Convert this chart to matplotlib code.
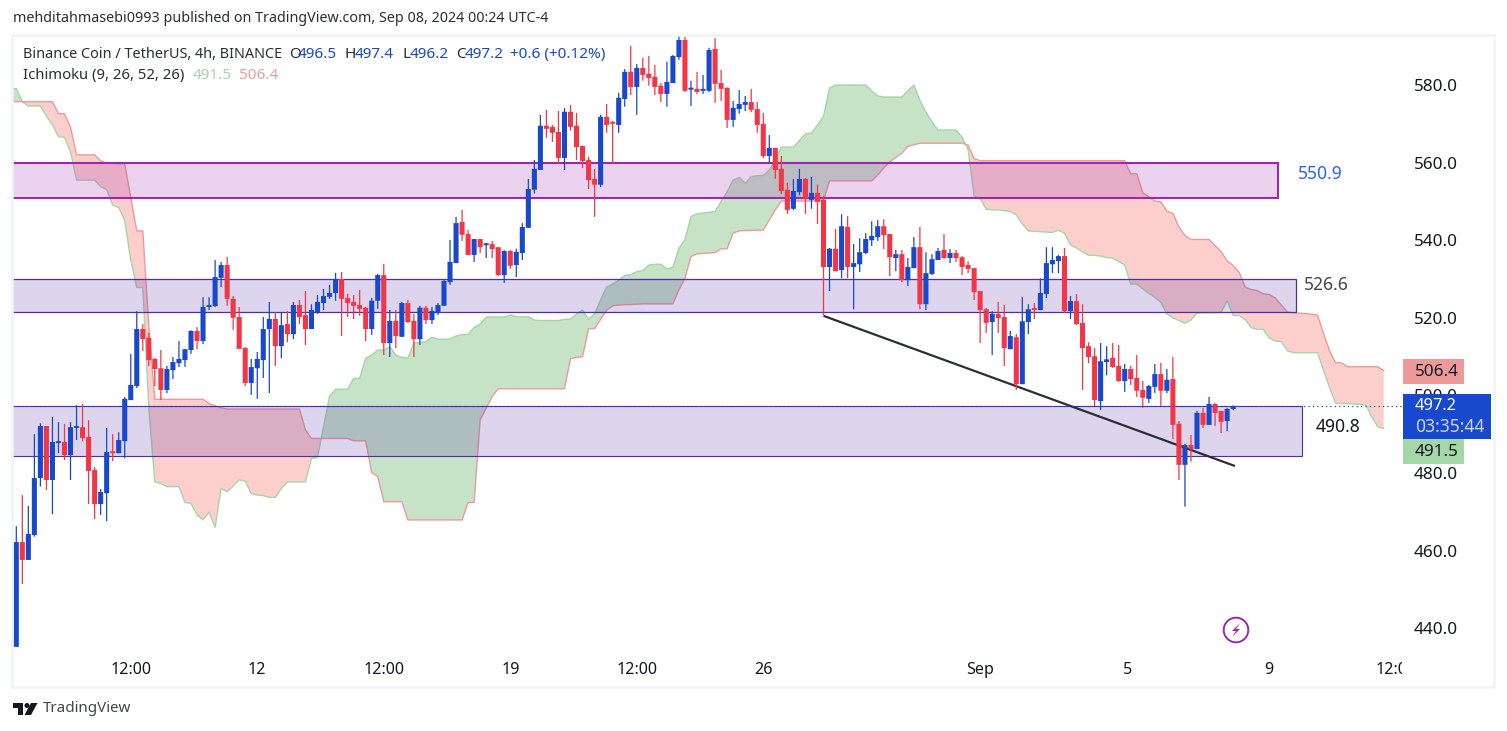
import numpy as np
import matplotlib
matplotlib.use('Agg')
import matplotlib.pyplot as plt
from matplotlib.patches import Rectangle, Polygon, Circle
from matplotlib.transforms import Bbox, TransformedBbox

#BNB/USDT 4h candles, prices
opens = [435.2,462.2,457.6,464.0,478.7,492.1,478.2,487.7,488.0,484.6,
         491.6,491.8,489.3,480.8,472.0,474.8,485.4,485.1,488.2,498.8,
         502.4,517.1,514.8,509.4,507.0,501.4,506.5,508.3,509.1,511.7,
         516.6,514.0,522.8,523.0,530.3,533.6,524.9,520.2,512.2,503.2,
         507.0,509.1,517.1,519.7,512.7,518.4,515.8,523.3,520.7,517.1,
         521.5,523.8,525.4,526.4,530.0,525.1,524.1,523.3,522.6,517.1,
         524.4,531.0,513.5,519.2,515.1,523.8,519.2,514.5,522.6,519.4,
         521.3,523.1,529.2,534.1,544.7,541.6,536.2,540.3,538.7,539.0,
         538.2,531.0,537.2,533.6,536.7,543.2,553.0,558.1,569.5,569.2,
         567.9,561.2,573.1,569.5,564.3,560.7,555.8,554.3,571.8,570.2,
         569.7,576.4,583.4,579.5,584.4,582.9,582.1,579.8,577.7,580.5,
         587.2,591.6,578.8,579.0,578.5,578.5,589.3,580.5,579.3,571.0,
         573.8,574.9,575.6,573.8,570.0,561.7,563.8,558.4,553.0,548.1,
         552.4,555.8,550.4,552.2,550.4,533.1,537.8,532.3,543.4,533.1,
         533.8,536.7,540.0,540.8,543.6,541.6,535.4,536.4,529.7,532.8,
         538.2,523.5,531.3,534.9,537.5,535.4,536.7,535.6,533.6,532.8,
         526.9,522.2,518.9,521.0,520.2,511.9,515.0,502.9,518.9,522.2,
         522.0,526.1,533.8,534.6,535.9,521.7,524.3,518.7,512.7,510.1,
         498.5,508.6,509.7,507.6,503.7,506.8,504.5,501.4,499.1,502.2,
         505.5,501.2,504.2,492.7,482.1,487.2,486.2,495.5,492.4,497.8,
         496.0,493.4,496.5]
highs = [466.3,474.3,471.5,490.0,492.8,492.1,494.4,493.1,492.6,493.1,
         497.5,497.8,493.6,481.5,475.9,491.6,490.0,490.5,499.6,510.7,
         521.7,518.4,516.1,509.6,511.7,507.6,509.9,514.0,511.9,516.8,
         517.6,525.3,525.3,534.9,534.4,535.7,525.6,522.8,512.5,509.4,
         511.2,520.2,524.1,521.5,521.5,521.7,524.1,524.6,526.9,523.5,
         525.9,527.4,528.5,531.6,531.8,526.2,525.9,527.2,522.8,525.1,
         531.3,533.9,522.0,522.0,524.1,524.6,521.0,523.1,523.1,522.8,
         523.8,530.0,540.1,546.0,547.8,542.6,540.3,540.3,539.3,539.8,
         538.2,537.4,537.5,537.8,544.4,555.8,560.7,572.3,573.6,569.7,
         573.3,574.1,574.9,572.8,564.3,561.5,558.4,572.3,575.1,570.7,
         578.0,584.1,590.1,585.4,587.0,587.5,585.2,580.5,586.0,587.7,
         592.9,592.4,581.1,583.4,582.6,589.6,592.1,583.9,579.3,575.9,
         578.7,577.2,579.0,575.6,572.8,567.1,563.8,561.7,554.8,555.8,
         558.4,556.0,556.3,554.3,551.4,538.0,542.9,546.7,546.2,539.0,
         540.5,541.8,544.9,545.2,545.4,541.6,537.5,537.5,535.4,540.8,
         543.4,536.9,536.4,538.0,541.6,537.7,537.5,535.9,534.6,532.8,
         526.9,522.5,521.7,524.1,523.3,516.6,515.8,525.3,523.5,523.8,
         530.2,538.2,538.2,536.2,538.0,525.6,526.1,523.5,513.7,512.2,
         513.5,512.7,513.5,513.0,508.1,507.6,510.4,503.7,502.7,508.1,
         508.4,506.8,509.9,493.4,487.5,489.8,496.0,496.8,499.6,498.0,
         496.0,496.8,497.4]
lows = [435.2,451.4,457.6,463.6,476.5,475.6,469.4,485.1,483.3,478.2,
        488.5,488.2,472.0,468.1,469.2,467.6,483.1,485.1,483.8,498.8,
        501.9,511.4,507.6,502.4,498.8,500.6,504.2,507.3,507.3,510.7,
        511.9,513.2,522.0,522.8,527.9,523.1,516.9,512.0,502.4,500.1,
        499.1,504.5,500.6,507.6,509.6,513.7,514.5,518.4,513.0,517.1,
        521.0,522.0,524.9,524.4,515.3,520.2,519.7,520.5,514.0,515.6,
        522.3,510.4,509.9,512.2,515.1,518.7,509.9,513.0,518.4,518.4,
        520.7,523.1,528.5,534.1,539.8,536.2,534.4,536.7,535.4,535.4,
        530.8,529.0,532.6,530.5,534.9,543.2,552.0,558.1,566.4,565.3,
        559.7,558.1,568.2,560.7,558.6,553.2,546.0,553.7,567.7,559.7,
        567.7,574.4,577.4,572.3,581.1,579.8,577.4,575.6,574.4,580.5,
        586.5,578.2,574.6,577.7,577.7,578.2,575.4,575.9,568.9,569.2,
        572.6,573.3,573.0,567.7,561.2,559.9,555.8,551.9,546.8,547.8,
        551.6,546.8,548.1,544.2,520.7,526.9,532.0,530.2,530.2,522.2,
        531.8,536.4,538.5,539.8,537.7,530.7,532.0,529.2,528.2,532.8,
        522.2,522.0,531.0,534.9,535.2,534.1,534.4,531.0,531.5,524.6,
        513.5,516.1,510.4,516.1,507.6,511.9,501.4,502.9,515.8,519.7,
        522.0,525.1,531.5,531.5,521.2,519.7,518.1,501.4,508.3,497.2,
        496.2,505.2,507.1,503.5,500.9,502.7,499.6,496.8,498.1,500.6,
        497.3,500.6,488.8,478.2,471.3,482.9,486.2,491.6,492.4,492.1,
        490.3,490.8,496.2]
closes = [462.2,457.6,464.3,478.7,492.1,478.2,488.0,488.2,484.6,491.8,
          491.8,489.0,480.5,472.0,475.1,485.4,485.1,488.5,499.1,502.7,
          517.1,514.5,509.1,506.8,501.4,506.8,508.6,509.4,511.9,516.6,
          514.0,522.8,523.0,530.5,533.6,524.9,520.0,512.0,503.2,507.3,
          509.4,517.1,519.7,512.7,518.1,515.8,523.3,520.2,517.1,522.0,
          524.1,525.6,526.4,530.0,524.9,523.8,523.1,522.3,517.1,524.4,
          531.0,513.5,519.2,515.3,523.8,518.9,514.5,522.6,519.4,521.8,
          523.3,529.5,534.4,544.4,541.4,536.2,540.3,538.2,538.9,537.7,
          531.0,537.2,533.4,537.0,543.4,553.2,558.4,569.5,568.7,567.7,
          561.2,573.1,569.2,564.0,560.4,555.5,554.3,571.8,569.7,570.0,
          576.7,583.4,579.5,584.4,582.6,581.8,579.5,577.7,580.8,587.5,
          591.6,578.5,579.0,578.2,578.7,589.0,580.3,579.0,571.0,574.1,
          575.1,575.6,573.6,569.7,561.7,563.8,558.1,552.7,547.8,552.7,
          555.8,550.6,552.2,549.9,533.1,537.8,532.0,543.6,533.1,534.1,
          536.9,540.3,541.1,543.6,541.3,535.6,536.4,529.7,533.1,538.2,
          523.5,531.5,535.1,537.2,535.4,536.7,535.4,533.1,532.6,526.6,
          522.0,518.7,521.0,519.9,512.2,515.3,502.9,519.1,522.2,522.0,
          526.4,534.1,534.9,535.9,521.7,524.3,518.4,512.2,509.9,498.8,
          508.8,509.3,507.3,503.7,506.8,504.2,501.2,499.4,502.4,505.5,
          501.2,504.0,492.4,482.1,487.2,486.2,495.5,492.4,497.8,495.5,
          493.2,496.5,497.2]

#ichimoku cloud, one value per bar starting one bar left of the first candle
span_a = [579.1,579.1,575.7,574.6,574.6,574.6,572.0,569.7,566.7,566.5,
          562.8,555.5,555.5,555.5,555.5,553.8,553.0,549.1,548.4,545.1,
          534.9,527.8,527.8,496.6,477.7,477.3,476.5,476.5,476.5,472.4,
          472.2,469.2,467.9,469.9,466.0,476.0,475.2,476.6,478.2,477.9,
          474.7,474.3,474.2,473.7,473.7,476.0,477.7,477.7,477.7,477.7,
          483.8,484.0,491.9,499.8,501.6,501.6,501.6,504.4,504.4,509.6,
          510.4,511.7,511.7,512.6,510.4,509.8,509.6,513.6,513.6,513.9,
          515.0,514.5,514.5,514.5,515.3,515.7,515.7,517.5,518.4,520.2,
          520.2,520.2,520.2,520.7,520.3,520.3,520.3,519.4,519.3,519.3,
          519.3,519.3,519.6,519.7,521.0,522.0,519.6,521.0,524.6,527.9,
          528.7,529.7,530.9,531.1,531.9,532.2,533.6,533.8,533.8,532.6,
          533.0,537.9,540.2,546.1,546.8,547.0,547.2,547.4,550.0,552.5,
          555.5,556.2,554.7,556.4,556.6,556.7,558.1,560.7,564.0,564.0,
          564.0,565.7,567.4,567.6,569.7,571.9,579.2,580.0,580.0,580.0,
          580.0,580.0,580.0,578.5,577.2,576.9,576.9,576.9,576.9,578.5,
          580.0,576.0,573.0,570.5,568.4,568.4,568.4,568.4,566.6,563.3,
          551.4,550.8,548.0,547.8,547.8,547.6,547.4,546.5,544.2,542.4,
          542.3,542.2,542.1,542.0,542.6,541.8,538.8,538.0,537.0,536.1,
          536.1,535.9,535.5,535.4,534.5,533.6,528.7,528.7,527.5,526.3,
          525.3,524.0,521.0,520.0,519.3,518.6,519.4,521.2,521.3,521.3,
          521.3,521.4,524.4,520.6,520.6,519.5,517.5,517.0,517.0,514.8,
          514.0,513.9,511.5,511.0,511.0,511.0,511.0,511.0,506.5,502.0,
          498.0,497.9,497.9,497.8,497.7,497.6,494.5,491.9,491.5]
span_b = [575.7,575.7,575.7,575.7,575.7,575.7,575.7,575.7,572.6,572.6,
          569.1,562.0,562.0,562.0,562.0,560.5,559.8,559.8,559.7,559.7,
          551.0,542.4,542.4,517.7,499.0,499.0,499.0,499.0,499.0,499.0,
          499.0,499.0,499.0,497.9,497.3,496.8,496.5,496.5,496.5,496.5,
          496.5,496.5,496.5,496.5,496.5,496.5,496.5,496.5,496.5,491.1,
          488.9,488.9,488.9,488.9,488.9,488.9,488.9,488.3,488.3,488.3,
          480.1,479.1,472.6,472.6,472.6,472.6,467.9,467.9,467.9,467.9,
          467.9,467.9,467.9,467.9,467.9,467.9,472.4,472.4,493.7,496.7,
          499.7,501.7,501.7,501.7,501.7,501.7,501.7,501.7,501.7,501.7,
          501.7,501.7,501.7,509.5,509.8,510.0,517.2,517.2,519.6,522.0,
          523.1,523.3,523.4,523.4,523.5,523.6,523.6,523.6,523.6,523.6,
          523.6,527.2,530.2,535.8,536.5,536.6,536.7,536.8,537.8,537.8,
          541.8,542.4,542.5,542.5,542.6,542.6,545.2,547.8,550.1,550.1,
          550.1,550.1,550.1,550.1,550.1,550.1,555.3,555.3,555.3,555.3,
          555.3,555.3,555.3,555.3,556.8,558.6,560.2,561.3,562.4,564.2,
          564.6,565.0,565.0,565.0,565.0,565.0,565.0,565.0,565.0,564.5,
          561.0,560.5,560.5,560.5,560.5,560.5,560.5,560.5,560.5,560.5,
          560.5,560.5,560.5,560.5,560.5,560.5,560.5,560.5,560.5,560.5,
          560.5,560.5,560.5,560.5,560.5,560.5,557.1,557.1,552.2,551.2,
          550.1,549.9,547.5,546.9,543.4,541.2,540.2,540.2,540.2,540.2,
          538.6,537.1,534.7,533.5,531.7,527.9,527.3,527.0,526.2,526.0,
          525.1,523.3,521.5,521.3,521.2,521.1,520.9,520.7,516.0,511.5,
          508.4,508.4,507.4,507.4,507.4,507.4,507.4,507.4,506.4]

#drawn zones: top price, bottom price, last bar
zone_tops = [559.9,529.9,497.2]
zone_bottoms = [550.9,521.6,484.3]
zone_ends = [209.4,212.4,213.4]
zone_colors = ['#9c27b0','#512da8','#512da8']
zone_lw = [1.5,0.9,0.8]

#trend line
trend_bars = [134,202.3]
trend_prices = [520.5,481.8]

price_ticks = [440,460,480,500,520,540,560,580]
time_ticks = [19,40,61,82,103,124,160,184.4,208,229]
time_labels = ['12:00','12','12:00','19','12:00','26','Sep','5','9','12:00']

W,H = 1507,731
FONT = 'Noto Sans'
BLUE = '#1848cc'
RED = '#f23645'
plt.rcParams['font.family'] = FONT

fig = plt.figure(figsize=(W/100,H/100),dpi=100,facecolor='white')

#main chart, bar spacing 6.024 px and 3.88 px per price unit
L,R,T,B = 13,1402,35,650
ax = fig.add_axes([L/W,1-B/H,(R-L)/W,(B-T)/H])
ax.set_xlim((L-16.3)/6.024,(R-16.3)/6.024)
ax.set_ylim(580-(B-85)/3.88,580-(T-85)/3.88)
for s in ax.spines.values():
    s.set_visible(False)

#cloud
cx = np.arange(-1,len(span_a)-1)
a = np.array(span_a)
b = np.array(span_b)
ax.fill_between(cx,a,b,where=a>=b,interpolate=True,color='#43a047',alpha=0.3,lw=0,zorder=1)
ax.fill_between(cx,a,b,where=a<b,interpolate=True,color='#f44336',alpha=0.25,lw=0,zorder=1)
ax.plot(cx,a,color='#a5d6a7',lw=1.0,zorder=1.5)
ax.plot(cx,b,color='#ef9a9a',lw=1.0,zorder=1.5)

#zones over the cloud
x0 = ax.get_xlim()[0]-2
for top,bot,end,col,lw in zip(zone_tops,zone_bottoms,zone_ends,zone_colors,zone_lw):
    ax.add_patch(Rectangle((x0,bot),end-x0,top-bot,facecolor=col,alpha=0.2,lw=0,zorder=2))
    ax.add_patch(Rectangle((x0,bot),end-x0,top-bot,fill=False,edgecolor=col,lw=lw,zorder=2.1))

ax.plot(trend_bars,trend_prices,color='#2a2e39',lw=1.6,zorder=2.5,solid_capstyle='butt')

#candles, snapping off so every body keeps the same width
idx = np.arange(len(opens))
o,h,l,c = map(np.array,(opens,highs,lows,closes))
cols = [BLUE if cc>=oo else RED for oo,cc in zip(o,c)]
wicks = ax.vlines(idx,l,h,colors=cols,lw=0.9,zorder=3)
wicks.set_snap(False)
bars = ax.bar(idx,np.maximum(np.abs(c-o),0.5),bottom=np.minimum(o,c),width=0.84,color=cols,lw=0,zorder=3.1)
for bar in bars:
    bar.set_snap(False)

ax.axhline(closes[-1],color=BLUE,lw=0.9,ls=(0,(1,2.5)),zorder=3.5)

#axes text
ax.yaxis.tick_right()
ax.set_yticks(price_ticks)
ax.set_yticklabels(['%.1f'%p for p in price_ticks],fontsize=12.3,color='#131722')
ax.tick_params(axis='y',length=0,pad=8.5)
ax.set_xticks(time_ticks)
ax.set_xticklabels(time_labels,fontsize=11.6,color='#131722')
ax.tick_params(axis='x',length=0,pad=8.5)
clip = TransformedBbox(Bbox([[0,0],[R/W,1]]),fig.transFigure)
for lab,name in zip(ax.get_xticklabels(),time_labels):
    lab.set_clip_on(True)
    lab.set_clip_box(clip)
    if name=='Sep':
        lab.set_fontweight('bold')

#overlay in pixel coordinates for frame, header, tags and logo
deco = fig.add_axes([0,0,1,1],zorder=5)
deco.set_xlim(0,W)
deco.set_ylim(H,0)
deco.axis('off')
deco.patch.set_alpha(0)
deco.add_patch(Rectangle((12,34.5),1482,652,fill=False,edgecolor='#f0f3fa',lw=1.8))

def txt(x,y,s,color='#131722',size=10,**kw):
    kw.setdefault('va','center')
    deco.text(x,y,s,color=color,fontsize=size,**kw)

txt(13,19,'mehditahmasebi0993 published on TradingView.com, Sep 08, 2024 00:24 UTC-4',color='#2a2e39',size=10.3)
txt(23,54.5,'Binance Coin / TetherUS, 4h, BINANCE',color='#2a2e39',size=10.4)
lv = '#1848cc'
for x,s,col in [(289,'O','#2a2e39'),(298,'496.5',lv),(345,'H','#2a2e39'),(355,'497.4',lv),
                (402,'L','#2a2e39'),(410,'496.2',lv),(456,'C','#2a2e39'),(465,'497.2',lv),
                (510,'+0.6 (+0.12%)',lv)]:
    txt(x,54.5,s,color=col,size=11)
txt(23,75.5,'Ichimoku (9, 26, 52, 26)',color='#2a2e39',size=10.7)
txt(193,75.5,'491.5',color='#a5d6a7',size=11)
txt(239,75.5,'506.4',color='#ef9a9a',size=11)

txt(1298,174,'550.9',color='#2962ff',size=12.6)
txt(1304,285,'526.6',color='#434651',size=12.6)
txt(1316,427,'490.8',color='#131722',size=12.6)

#price tags
deco.add_patch(Rectangle((1403,359),61,25,facecolor='#ef9a9a',lw=0))
txt(1415,372,'506.4',size=12.3)
deco.add_patch(Rectangle((1403,394),88,45,facecolor=BLUE,lw=0))
txt(1415,406,'497.2',color='white',size=11.8,fontweight='bold')
txt(1415,427,'03:35:44',color='#c9d6f5',size=12.6)
deco.add_patch(Rectangle((1403,439),61,25,facecolor='#a5d6a7',lw=0))
txt(1415,452,'491.5',size=12.3)

#bolt icon
deco.add_patch(Circle((1236,630),12.3,fill=False,edgecolor='#9c27b0',lw=1.4))
deco.add_patch(Polygon([[1240,623],[1232,631],[1236,631],[1232,637],[1240,629],[1236,629]],facecolor='#9c27b0',lw=0))

#logo
logo = '#131722'
deco.add_patch(Polygon([[13,703],[23,703],[23,715],[18,715],[18,708],[13,708]],facecolor=logo,lw=0))
deco.add_patch(Circle((27,705.5),2.5,facecolor=logo,lw=0))
deco.add_patch(Polygon([[31,703],[37.5,703],[31,715],[24.5,715]],facecolor=logo,lw=0))
txt(43,709,'TradingView',color='#434651',size=10.9)

fig.savefig('out.png',dpi=100)
